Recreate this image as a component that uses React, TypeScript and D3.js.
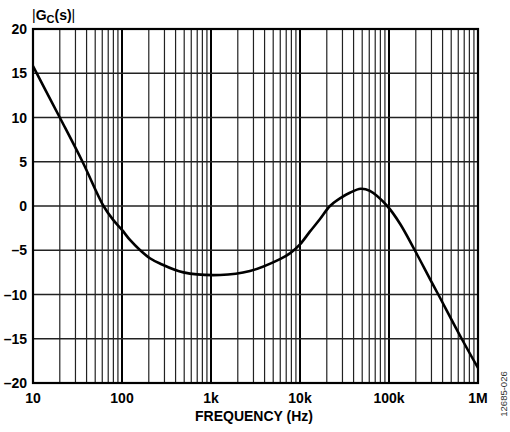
import React from 'react';
import * as d3 from 'd3';

// frequency (Hz) and |Gc(s)|
const freqs = [10, 20, 36, 62, 80, 100, 123, 159, 206, 267, 490, 1260, 2740, 5960, 7700, 10000, 12900, 16700, 21700, 28100, 36300, 48000, 61000, 95500, 133000, 195000, 294000, 358000, 656000, 1000000];
const gains = [15.8, 10, 5, 0, -1.6, -2.7, -3.84, -4.97, -5.9, -6.5, -7.5, -7.8, -7.35, -6.0, -5.35, -4.33, -2.9, -1.5, 0, 0.87, 1.5, 1.95, 1.7, 0, -2, -5, -8.4, -10, -15, -18.3];

const xTicks = [10, 100, 1000, 10000, 100000, 1000000];
const xTickLabels = ['10', '100', '1k', '10k', '100k', '1M'];
const yTicks = [20, 15, 10, 5, 0, -5, -10, -15, -20];

const W = 510;
const H = 432;
const margin = { left: 33, right: 32, top: 29, bottom: 49 };

export default function App() {
  const x = d3.scaleLog().domain([10, 1e6]).range([margin.left, W - margin.right]);
  const y = d3.scaleLinear().domain([-20, 20]).range([H - margin.bottom, margin.top]);

  // minor grid: 1..9 per decade
  const gridFreqs: number[] = [];
  for (let d = 10; d < 1e6; d *= 10) {
    for (let k = 1; k < 10; k++) gridFreqs.push(d * k);
  }

  const line = d3
    .line<number>()
    .x((_, i) => x(freqs[i]))
    .y((g) => y(g))
    .curve(d3.curveCatmullRom.alpha(0.5));

  const font = '"Liberation Sans", Arial, sans-serif';

  return (
    <svg
      width={W}
      height={H}
      style={{ position: 'absolute', left: 0, top: 0, background: '#fff' }}
      fontFamily={font}
    >
      {/* vertical grid */}
      {gridFreqs.map((f) => (
        <line
          key={'v' + f}
          x1={x(f)}
          x2={x(f)}
          y1={y(20)}
          y2={y(-20)}
          stroke={xTicks.includes(f) ? '#000' : '#222'}
          strokeWidth={xTicks.includes(f) ? 2 : 1.2}
        />
      ))}
      {/* horizontal grid */}
      {yTicks.map((v) => (
        <line key={'h' + v} x1={x(10)} x2={x(1e6)} y1={y(v)} y2={y(v)} stroke="#222" strokeWidth={1.3} />
      ))}
      {/* frame */}
      <rect
        x={x(10)}
        y={y(20)}
        width={x(1e6) - x(10)}
        height={y(-20) - y(20)}
        fill="none"
        stroke="#000"
        strokeWidth={2.2}
      />
      {/* curve */}
      <path d={line(gains) || ''} fill="none" stroke="#000" strokeWidth={2.6} strokeLinejoin="round" />

      {/* y tick labels */}
      {yTicks.map((v) => (
        <text
          key={'yl' + v}
          x={27}
          y={y(v)}
          dy="0.36em"
          textAnchor="end"
          fontSize={14}
          fontWeight="bold"
        >
          {v < 0 ? '\u2013' + Math.abs(v) : v}
        </text>
      ))}
      {/* x tick labels */}
      {xTicks.map((f, i) => (
        <text key={'xl' + f} x={x(f)} y={403} textAnchor="middle" fontSize={14} fontWeight="bold">
          {xTickLabels[i]}
        </text>
      ))}
      <text x={254} y={421} textAnchor="middle" fontSize={14} fontWeight="bold">
        FREQUENCY (Hz)
      </text>
      {/* y title */}
      <text x={32} y={20} fontSize={14} fontWeight="bold">
        <tspan fontWeight="normal">|</tspan>
        <tspan>G</tspan>
        <tspan fontSize={11} dy={3}>C</tspan>
        <tspan dy={-3}>(s)</tspan>
        <tspan fontWeight="normal">|</tspan>
      </text>
      {/* figure code */}
      <text
        transform="translate(507,394) rotate(-90)"
        textAnchor="middle"
        fontSize={9.5}
        fill="#333"
      >
        12685-026
      </text>
    </svg>
  );
}
